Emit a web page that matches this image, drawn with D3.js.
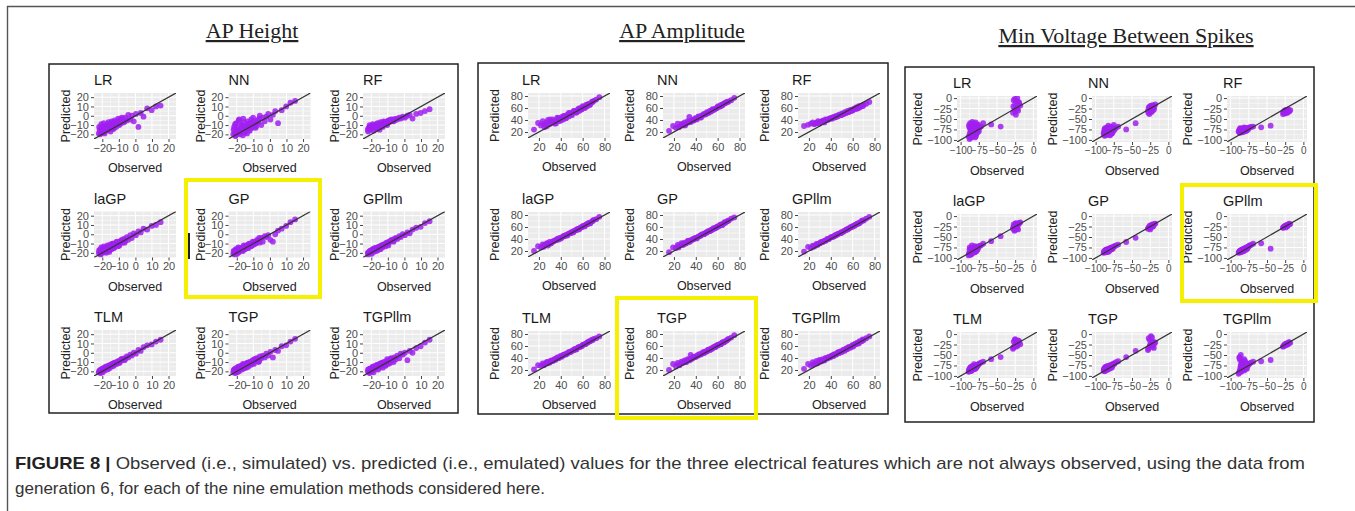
<!DOCTYPE html>
<html><head><meta charset="utf-8">
<script src="https://cdn.jsdelivr.net/npm/d3@7"></script>
<style>body{margin:0;background:#fff}svg{display:block}</style>
</head><body>
<svg id="c" width="1355" height="511"></svg>
<script>
// ---------------- DATA ----------------
const methodGrid = [["LR","NN","RF"],["laGP","GP","GPllm"],["TLM","TGP","TGPllm"]];
const featureNames = ["AP Height","AP Amplitude","Min Voltage Between Spikes"];

const ticksHeight = [-20,-10,0,10,20];
const ticksAmp = [20,40,60,80];
const ticksMin = [-100,-75,-50,-25,0];
const limitsHeight = [-25,24.5];
const limitsAmp = [10,85];
const limitsMin = [-105,5];

// AP Height: observed and predicted values
const obsHeight = [-22.1,-21.6,-21.2,-20.8,-20.3,-19.9,-19.4,-18.8,-18.3,-17.9,-17.2,-16.6,-16.1,-15.4,-14.8,-14.1,-13.5,-12.9,-12.2,-11.6,-10.8,-10.1,-9.3,-8.6,-7.8,-6.9,-6.1,-5.2,-4.3,-3.1,-2.2,-1.0,0.3,1.8,3.2,4.9,7.1,9.8,12.4,15.2,
  -21.9,-21.0,-20.6,-19.7,-19.1,-18.6,-17.6,-16.9,-16.3,-15.8,-15.0,-14.4,-13.8,-13.1,-12.5,-11.3,-10.4,-9.7,-8.2,-6.5];
const hLR    = [-19,-15,-20,-13,-17,-12,-18,-14,-11,-16,-13,-9,-15,-10,-12,-8,-14,-7,-10,-12,-6,-9,-4,-8,-3,-7,-2,-5,1,-4,0,-6,2,-12,3,-1,8,6,10,11,
  -12,-18,-9,-16,-8,-19,-11,-15,-7,-13,-17,-6,-11,-14,-5,-9,-3,-10,-2,-6];
const hNN    = [-20,-12,-18,-22,-8,-16,-19,-5,-14,-20,-10,-15,-3,-17,-12,-14,-6,-11,-16,-8,-12,-2,-9,-13,-5,-7,0,-10,-2,-6,-1,2,-4,1,5,-8,6,10,14,16,
  -15,-9,-21,-13,-18,-4,-16,-10,-21,-7,-18,-12,-19,-9,-15,-4,-13,-7,-11,-3];
const hRF    = [-15,-13,-14,-12,-14,-11,-13,-12,-10,-12,-11,-9,-12,-10,-9,-10,-8,-9,-7,-8,-7,-6,-7,-5,-6,-4,-5,-3,-4,-2,-3,-1,-2,0,1,-3,2,3,5,7,
  -17,-10,-15,-13,-9,-16,-11,-14,-8,-13,-15,-7,-11,-12,-6,-9,-10,-5,-4,-6];
const hLaGP  = [-20,-18,-21,-16,-19,-17,-15,-19,-16,-14,-18,-13,-15,-17,-12,-14,-10,-13,-11,-9,-12,-8,-10,-7,-9,-5,-7,-3,-6,-1,-4,1,-1,3,2,6,5,9,10,13,
  -17,-22,-14,-20,-13,-18,-20,-12,-17,-19,-11,-16,-10,-15,-14,-8,-13,-12,-6,-9];
const hGP    = [-21,-19,-20,-17,-19,-18,-16,-19,-15,-17,-16,-14,-17,-13,-15,-12,-14,-11,-13,-10,-12,-9,-8,-10,-6,-7,-9,-4,-8,-2,-3,-1,-6,-8,0,4,6,9,13,16,
  -18,-22,-16,-21,-14,-19,-17,-15,-18,-12,-16,-13,-12,-15,-10,-13,-8,-11,-9,-4];
const hGPllm = [-20,-20,-19,-18,-20,-17,-18,-16,-17,-15,-16,-15,-14,-15,-13,-14,-12,-12,-11,-11,-9,-10,-8,-8,-6,-7,-5,-4,-5,-2,-3,0,-1,2,1,5,7,8,12,14,
  -22,-19,-18,-21,-16,-19,-15,-18,-14,-17,-13,-16,-12,-14,-11,-13,-9,-12,-7,-8];
const hTLM   = [-21,-19,-20.5,-18,-19.5,-17,-18.5,-16,-17.5,-15,-16.5,-14,-15.5,-13,-14,-12,-13.5,-11,-12,-10,-10.5,-9,-10,-7,-8,-6,-6.5,-4,-5,-2,-3,0,-1,3,2,6,8,9,12,14,
  -20,-22,-19,-21,-17,-19,-16,-18,-15,-17,-14,-15,-12,-14,-11,-12,-9,-11,-7,-8];
const hTGP   = [-21,-18,-20,-17,-21,-16,-18,-19,-15,-17,-14,-16,-13,-16,-12,-15,-11,-13,-10,-12,-9,-11,-7,-9,-6,-10,-4,-6,-3,-5,-1,-3,1,-5,3,2,7,8,12,15,
  -19,-22,-17,-21,-15,-20,-14,-18,-12,-17,-13,-16,-11,-15,-10,-13,-8,-12,-6,-9];
const hTGPllm= [-20,-19,-21,-17,-19,-18,-16,-18,-15,-17,-16,-13,-15,-14,-12,-14,-11,-12,-10,-13,-9,-10,-8,-11,-6,-8,-5,-7,-3,-6,-1,-2,0,-8,2,0,5,7,11,14,
  -18,-22,-17,-20,-15,-21,-14,-17,-13,-18,-12,-15,-11,-16,-10,-14,-7,-12,-6,-10];

// AP Amplitude
const obsAmp = [15.5,19.2,21.8,23.5,25.1,26.9,28.3,29.7,31.2,32.6,34.1,35.3,36.8,38.2,39.5,40.9,42.3,43.6,44.8,46.1,47.5,48.9,50.2,51.4,52.8,54.1,55.3,56.7,57.9,59.2,60.5,61.8,63.1,64.2,65.6,66.9,68.3,70.1,72.4,75.2,
  24.3,27.4,30.2,33.1,35.6,37.9,40.2,42.7,44.9,47.3,49.6,51.8,54.4,56.2,58.5,60.1,62.4,64.6,66.3,69.1];
const aLR    = [24,35,31,38,28,36,40,33,37,41,34,39,44,38,42,45,41,47,44,49,46,52,48,53,55,52,57,55,60,58,62,60,65,63,67,66,70,72,74,78,
  33,30,41,37,34,43,39,47,43,52,50,55,53,59,57,63,61,66,65,70];
const aNN    = [22,30,27,34,29,33,31,36,34,38,45,37,40,39,43,41,46,44,47,48,50,49,53,52,55,54,58,57,59,60,63,62,65,64,67,68,70,71,73,77,
  28,33,31,36,37,40,42,45,44,49,51,52,56,57,59,62,63,66,68,70];
const aRF    = [30,32,34,36,33,35,38,34,37,39,36,41,40,42,43,42,45,44,47,46,49,48,51,50,53,52,55,54,57,56,58,59,61,60,63,62,64,65,67,70,
  34,35,37,39,40,41,43,44,45,47,48,50,52,53,55,56,58,59,61,63];
const aLaGP  = [20,28,26,31,30,32,29,35,33,36,37,38,40,39,42,43,44,45,47,46,49,50,52,51,54,55,57,56,59,60,62,61,64,65,67,66,69,72,73,77,
  27,33,32,36,38,41,41,45,46,49,50,53,55,57,59,61,63,65,67,70];
const aGP    = [18,26,25,30,29,33,30,34,33,37,35,38,39,40,42,41,44,45,46,48,48,50,51,53,53,55,56,57,58,60,61,62,64,63,66,67,69,71,74,76,
  26,31,32,37,37,40,42,44,47,48,51,53,55,58,59,61,64,65,68,70];
const aGPllm = [19,27,25,29,28,32,31,33,35,35,37,37,40,40,42,43,44,46,46,48,49,50,52,52,54,55,56,58,59,60,62,62,64,65,66,68,70,71,74,77,
  27,30,33,36,38,40,43,44,47,49,50,53,56,57,60,61,64,66,67,71];
const aTLM   = [21,28,27,31,29,33,34,32,36,35,38,37,41,40,43,42,45,46,47,48,50,50,52,53,55,54,57,58,59,60,62,63,64,66,67,68,70,72,73,76,
  28,31,34,36,39,40,43,45,46,49,51,53,55,58,59,62,63,66,68,70];
const aTGP   = [20,30,26,32,28,34,32,36,33,38,36,45,39,41,42,44,44,46,46,49,48,51,51,54,53,56,56,58,58,61,61,63,63,66,66,68,69,72,74,78,
  29,32,34,37,38,42,42,46,47,50,51,54,55,58,60,62,63,66,67,71];
const aTGPllm= [22,30,27,33,30,35,32,37,34,38,36,40,39,42,41,44,43,46,46,49,48,51,50,53,52,56,55,58,57,60,59,62,63,65,64,67,68,70,73,76,
  29,31,35,36,39,41,43,46,46,50,51,54,55,58,59,62,64,65,68,71];

// Min Voltage Between Spikes
const obsMin = [-89,-88,-87.5,-87,-86.5,-86,-85.5,-85,-84.5,-84,-83.5,-83,-82.5,-82,-81.5,-81,-80.5,-80,-79.5,-79,-78.5,-78,-77,-76,-75,-74,-72,-69,-58,-45,-28,-27,-26,-25,-24,-23,-22,-21,-20,-18,
  -88.5,-87.8,-86.8,-86.2,-85.2,-84.2,-83.2,-82.2,-81.2,-80.2,-79.2,-78.2,-77.5,-76.5,-27.5,-25.5,-24.5,-22.5,-21.5,-19.5];
const mLR    = [-92,-70,-85,-60,-78,-95,-66,-88,-74,-57,-82,-90,-69,-77,-62,-86,-73,-80,-58,-91,-67,-84,-75,-63,-79,-71,-68,-60,-63,-68,-35,-5,-28,-15,-40,-22,0,-30,-10,-18,
  -65,-98,-72,-83,-93,-61,-76,-89,-68,-94,-72,-85,-64,-81,-20,-2,-33,-8,-25,-12];
const mNN    = [-85,-78,-90,-72,-82,-86,-75,-80,-88,-70,-77,-84,-66,-79,-83,-74,-87,-76,-81,-69,-78,-85,-73,-80,-64,-76,-71,-68,-75,-60,-30,-22,-38,-26,-18,-33,-24,-20,-28,-15,
  -82,-74,-88,-79,-71,-86,-77,-83,-75,-89,-80,-72,-84,-70,-35,-20,-27,-31,-17,-23];
const mRF    = [-80,-76,-83,-72,-79,-75,-82,-77,-73,-80,-78,-74,-81,-76,-70,-79,-75,-77,-72,-78,-74,-76,-73,-75,-71,-70,-69,-68,-70,-66,-38,-34,-30,-36,-28,-32,-35,-27,-31,-29,
  -78,-81,-74,-79,-77,-73,-80,-75,-79,-72,-76,-78,-74,-71,-33,-37,-30,-34,-29,-32];
const mLaGP  = [-94,-88,-75,-90,-84,-79,-92,-86,-70,-88,-82,-85,-77,-83,-80,-87,-72,-81,-84,-78,-80,-76,-79,-74,-73,-71,-70,-66,-60,-48,-30,-20,-35,-25,-17,-28,-22,-32,-19,-15,
  -90,-80,-86,-92,-77,-89,-83,-75,-87,-81,-78,-84,-73,-79,-26,-33,-18,-30,-21,-16];
const mGP    = [-88,-84,-86,-82,-87,-80,-85,-83,-81,-86,-79,-84,-82,-78,-83,-80,-77,-81,-76,-79,-78,-75,-77,-74,-73,-72,-70,-68,-62,-52,-30,-27,-25,-32,-22,-26,-20,-24,-21,-18,
  -85,-87,-83,-84,-86,-81,-82,-85,-79,-80,-77,-79,-76,-78,-29,-23,-28,-21,-25,-19];
const mGPllm = [-88,-85,-87,-83,-86,-82,-84,-81,-85,-80,-83,-79,-82,-80,-78,-81,-77,-79,-76,-78,-75,-77,-74,-73,-72,-70,-69,-66,-65,-78,-28,-26,-25,-23,-27,-22,-24,-21,-20,-19,
  -86,-84,-87,-82,-85,-83,-80,-84,-79,-81,-78,-80,-76,-77,-27,-25,-24,-21,-22,-18];
const mTLM   = [-90,-84,-88,-80,-86,-83,-78,-87,-82,-85,-76,-81,-84,-79,-72,-83,-80,-77,-82,-75,-79,-74,-76,-73,-71,-70,-68,-66,-60,-55,-35,-18,-28,-12,-30,-22,-25,-15,-20,-24,
  -86,-89,-82,-85,-88,-80,-84,-78,-81,-83,-77,-79,-75,-76,-32,-14,-26,-20,-28,-17];
const mTGP   = [-87,-82,-89,-79,-85,-81,-86,-77,-83,-80,-84,-76,-82,-79,-81,-78,-75,-80,-77,-74,-76,-73,-75,-72,-70,-71,-67,-65,-55,-40,-38,-10,-30,-25,-5,-22,-28,-18,-33,-20,
  -84,-88,-80,-86,-83,-78,-85,-81,-77,-82,-79,-76,-80,-74,-35,-15,-27,-8,-30,-23];
const mTGPllm= [-95,-55,-88,-62,-80,-50,-90,-70,-84,-65,-78,-86,-72,-82,-60,-79,-75,-83,-68,-77,-81,-74,-76,-71,-73,-70,-68,-66,-65,-62,-30,-28,-25,-27,-23,-26,-22,-24,-20,-21,
  -92,-58,-85,-75,-89,-67,-82,-73,-87,-64,-79,-71,-83,-76,-29,-26,-24,-22,-23,-19];

const captionBold = "FIGURE 8 |";
const captionLine1 = " Observed (i.e., simulated) vs. predicted (i.e., emulated) values for the three electrical features which are not always observed, using the data from";
const captionLine2 = "generation 6, for each of the nine emulation methods considered here.";

// ---------------- ASSEMBLY ----------------
const features = [
  {name: featureNames[0], obs: obsHeight, ticks: ticksHeight, lim: limitsHeight,
   pred: {LR:hLR,NN:hNN,RF:hRF,laGP:hLaGP,GP:hGP,GPllm:hGPllm,TLM:hTLM,TGP:hTGP,TGPllm:hTGPllm}},
  {name: featureNames[1], obs: obsAmp, ticks: ticksAmp, lim: limitsAmp,
   pred: {LR:aLR,NN:aNN,RF:aRF,laGP:aLaGP,GP:aGP,GPllm:aGPllm,TLM:aTLM,TGP:aTGP,TGPllm:aTGPllm}},
  {name: featureNames[2], obs: obsMin, ticks: ticksMin, lim: limitsMin,
   pred: {LR:mLR,NN:mNN,RF:mRF,laGP:mLaGP,GP:mGP,GPllm:mGPllm,TLM:mTLM,TGP:mTGP,TGPllm:mTGPllm}}
];

// layout (positions / sizes only)
const layout = [
  {frame:[49,64,458,413], tx:252, ty:38, px0:94, py0:93, dx:134.5, dy:118.5, w:82, h:46, tOff:0, yl:-28, xfs:11,
   hl:[186,180,320,297]},
  {frame:[478,63,888,414], tx:682, ty:38, px0:528, py0:93, dx:135, dy:119, w:82, h:45, tOff:-6, yl:-33, xfs:11,
   hl:[617,298,756,418]},
  {frame:[905,67,1314,422], tx:1126, ty:43, px0:957, py0:96, dx:135, dy:118, w:80, h:46, tOff:-4, yl:-39, xfs:10,
   hl:[1182,185,1316,301]}
];

const svg = d3.select("#c");
const SANS = "'Liberation Sans', Arial, sans-serif";

svg.append("path").attr("d","M7.5,511 L7.5,6.5 L1355,6.5").attr("fill","none").attr("stroke","#555").attr("stroke-width",1.4);

let clipId = 0;
features.forEach((f, k) => {
  const L = layout[k];
  svg.append("rect").attr("x",L.frame[0]).attr("y",L.frame[1])
    .attr("width",L.frame[2]-L.frame[0]).attr("height",L.frame[3]-L.frame[1])
    .attr("fill","none").attr("stroke","#222").attr("stroke-width",1.5);
  svg.append("text").attr("x",L.tx).attr("y",L.ty).attr("text-anchor","middle")
    .attr("font-family","'Liberation Serif', 'DejaVu Serif', serif").attr("font-size",22)
    .attr("fill","#222").attr("text-decoration","underline").text(f.name);

  const x = d3.scaleLinear().domain(f.lim).range([0, L.w]);
  const y = d3.scaleLinear().domain(f.lim).range([L.h, 0]);
  const minor = d3.pairs(f.ticks).map(([a,b]) => (a+b)/2);

  methodGrid.forEach((row, r) => row.forEach((m, c) => {
    const px = L.px0 + c*L.dx, py = L.py0 + r*L.dy;
    const g = svg.append("g").attr("transform",`translate(${px},${py})`);
    g.append("rect").attr("width",L.w).attr("height",L.h).attr("fill","#ebebeb");
    g.selectAll(null).data(minor).join("line")
      .attr("x1",d=>x(d)).attr("x2",d=>x(d)).attr("y1",0).attr("y2",L.h)
      .attr("stroke","#fff").attr("stroke-width",0.5);
    g.selectAll(null).data(minor).join("line")
      .attr("y1",d=>y(d)).attr("y2",d=>y(d)).attr("x1",0).attr("x2",L.w)
      .attr("stroke","#fff").attr("stroke-width",0.5);
    g.selectAll(null).data(f.ticks).join("line")
      .attr("x1",d=>x(d)).attr("x2",d=>x(d)).attr("y1",0).attr("y2",L.h)
      .attr("stroke","#fff").attr("stroke-width",1);
    g.selectAll(null).data(f.ticks).join("line")
      .attr("y1",d=>y(d)).attr("y2",d=>y(d)).attr("x1",0).attr("x2",L.w)
      .attr("stroke","#fff").attr("stroke-width",1);

    const id = "clip" + (clipId++);
    g.append("clipPath").attr("id",id).append("rect").attr("width",L.w).attr("height",L.h);
    const pts = f.obs.map((o,i) => [o, f.pred[m][i]]);
    const inner = g.append("g").attr("clip-path",`url(#${id})`);
    inner.selectAll("circle").data(pts).join("circle")
      .attr("cx",d=>x(d[0])).attr("cy",d=>y(d[1])).attr("r",2.9)
      .attr("fill","#a020f0").attr("fill-opacity",0.85);
    inner.append("line")
      .attr("x1",x(f.lim[0])).attr("y1",y(f.lim[0])).attr("x2",x(f.lim[1])).attr("y2",y(f.lim[1]))
      .attr("stroke","#333").attr("stroke-width",1.2);

    const ax = g.append("g").attr("transform",`translate(0,${L.h})`)
      .call(d3.axisBottom(x).tickValues(f.ticks).tickSize(3).tickPadding(2));
    const ay = g.append("g").call(d3.axisLeft(y).tickValues(f.ticks).tickSize(3).tickPadding(2));
    [ax, ay].forEach(a => {
      a.select(".domain").remove();
      a.selectAll(".tick line").attr("stroke","#444");
      a.selectAll(".tick text").attr("font-family",SANS).attr("font-size",11).attr("fill","#4d4d4d");
    });
    ax.selectAll(".tick text").attr("font-size",L.xfs);
    g.append("text").attr("x",L.tOff).attr("y",-8).attr("font-family",SANS).attr("font-size",14.5)
      .attr("fill","#1a1a1a").text(m);
    g.append("text").attr("transform",`translate(${L.yl},${L.h/2}) rotate(-90)`)
      .attr("text-anchor","middle").attr("dy","0.35em").attr("font-family",SANS).attr("font-size",12.5)
      .attr("fill","#222").text("Predicted");
    g.append("text").attr("x",L.w/2).attr("y",L.h+33).attr("text-anchor","middle")
      .attr("font-family",SANS).attr("font-size",12.5).attr("fill","#222").text("Observed");
  }));

  svg.append("rect").attr("x",L.hl[0]).attr("y",L.hl[1]).attr("width",L.hl[2]-L.hl[0]).attr("height",L.hl[3]-L.hl[1])
    .attr("fill","none").attr("stroke","#f4f000").attr("stroke-width",4);
});

svg.append("line").attr("x1",189).attr("x2",189).attr("y1",233).attr("y2",259).attr("stroke","#222").attr("stroke-width",2);

const cap1 = svg.append("text").attr("x",15).attr("y",469).attr("font-family",SANS).attr("font-size",17)
  .attr("fill","#333").attr("textLength",1290).attr("lengthAdjust","spacingAndGlyphs");
cap1.append("tspan").attr("font-weight","bold").attr("fill","#222").text(captionBold);
cap1.append("tspan").text(captionLine1);
svg.append("text").attr("x",15).attr("y",494).attr("font-family",SANS).attr("font-size",17)
  .attr("fill","#333").attr("textLength",530).attr("lengthAdjust","spacingAndGlyphs").text(captionLine2);
</script>
</body></html>
